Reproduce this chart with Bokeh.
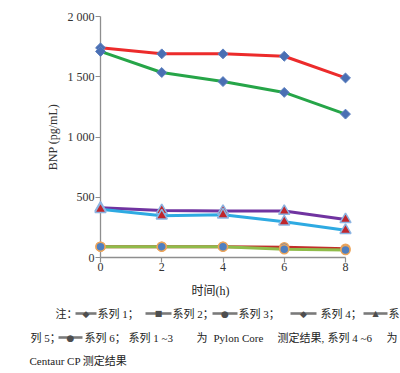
from bokeh.plotting import figure
from bokeh.models import Range1d, LinearAxis, FixedTicker
from bokeh.embed import file_html
from bokeh.resources import INLINE
from bokeh.core.properties import value

# ---------------- data ----------------
hours = [0, 2, 4, 6, 8]
s_red = [1740, 1690, 1690, 1670, 1490]
s_green = [1710, 1535, 1460, 1370, 1190]
s_purple = [412, 390, 385, 385, 316]
s_cyan = [400, 346, 354, 297, 226]
s_darkred = [90, 90, 90, 85, 72]
s_olive = [90, 90, 90, 68, 62]
y_ticks = [0, 500, 1000, 1500, 2000]
y_tick_labels = ["0", "500", "1 000", "1 500", "2 000"]
x_ticks = [0, 2, 4, 6, 8]
x_title = "时间(h)"
y_title = "BNP (pg/mL)"

SERIF_STR = "'Liberation Serif', 'Noto Sans CJK SC', serif"
AXIS_GRAY = "#8e8e8e"

# frame placement (canvas pixels)
FL, FR, FT, FB = 100, 345, 16, 257
W, H = 400, 373
X0, X1, Y0, Y1 = 0, 8, 0, 2000

p = figure(width=W, height=H,
           x_range=Range1d(X0, X1), y_range=Range1d(Y0, Y1),
           x_axis_type=None, y_axis_type=None,
           output_backend="svg", toolbar_location=None,
           min_border_left=FL, min_border_right=W - FR,
           min_border_top=FT, min_border_bottom=H - FB)
p.outline_line_color = None
p.background_fill_color = "white"
p.border_fill_color = "white"

xaxis = LinearAxis(ticker=FixedTicker(ticks=x_ticks))
yaxis = LinearAxis(ticker=FixedTicker(ticks=y_ticks),
                   major_label_overrides={t: l for t, l in zip(y_ticks, y_tick_labels)},
                   axis_label=y_title)
for ax in (xaxis, yaxis):
    ax.axis_line_color = AXIS_GRAY
    ax.axis_line_width = 1.3
    ax.major_tick_line_color = AXIS_GRAY
    ax.major_tick_line_width = 1.2
    ax.major_tick_in = 0
    ax.major_tick_out = 5
    ax.minor_tick_line_color = None
    ax.major_label_standoff = 1
    ax.major_label_text_font = SERIF_STR
    ax.major_label_text_font_size = "12px"
    ax.major_label_text_color = "#333333"
    ax.axis_label_text_font = SERIF_STR
    ax.axis_label_text_font_size = "12px"
    ax.axis_label_text_font_style = "normal"
    ax.axis_label_text_color = "#333333"
yaxis.axis_label_standoff = 5
xaxis.major_label_standoff = 0
p.add_layout(xaxis, "below")
p.add_layout(yaxis, "left")

LW = 3
renderers = []
renderers.append(p.line(hours, s_red, line_color="#ec2b2b", line_width=LW))
renderers.append(p.line(hours, s_green, line_color="#26a548", line_width=LW))
renderers.append(p.line(hours, s_purple, line_color="#7033a0", line_width=LW))
renderers.append(p.line(hours, s_cyan, line_color="#2eaae2", line_width=LW))
renderers.append(p.line(hours, s_darkred, line_color="#c0302a", line_width=LW))
renderers.append(p.line(hours, s_olive, line_color="#8fbc4a", line_width=LW))

for s in (s_red, s_green):
    renderers.append(p.scatter(hours, s, marker="square", size=7, angle=0.785,
                               fill_color="#4a6fb3", line_color="#5b7fc0", line_width=1))
for s in (s_purple, s_cyan):
    renderers.append(p.scatter(hours, s, marker="triangle", size=11,
                               fill_color="#c0262c", line_color="#8cb4e2", line_width=1.5))
for s in (s_darkred, s_olive):
    renderers.append(p.scatter(hours, s, marker="circle", size=9,
                               fill_color="#4f7fc0", line_color="#eda55a", line_width=1.5))

# ---------------- caption (x title + note), drawn outside the frame ----------------
def dx(px):
    return X0 + (px - FL) * (X1 - X0) / (FR - FL)

def dy(py):
    return Y0 + (FB - py) * (Y1 - Y0) / (FB - FT)

def txt(s, x, y, align="left", size="11px", font=SERIF_STR, color="#222222"):
    renderers.append(p.text(x=[dx(x)], y=[dy(y)], text=[s], text_font=value(font),
                            text_font_size=size, text_align=align,
                            text_baseline="middle", text_color=color))

ICON_GRAY = "#7a7a7a"
MARK_GRAY = "#4e4e4e"
MARK_CHAR = {"diamond": ("◆", "9px"), "square": ("■", "8px"),
             "circle": ("●", "9px"), "triangle": ("▲", "8px")}

def icon(x0, x1, y, marker):
    renderers.append(p.segment(x0=[dx(x0)], y0=[dy(y)], x1=[dx(x1)], y1=[dy(y)],
                               line_color=ICON_GRAY, line_width=2.6))
    ch, sz = MARK_CHAR[marker]
    txt(ch, (x0 + x1) / 2, y, align="center", size=sz, font="DejaVu Sans", color=MARK_GRAY)

txt(x_title, 210, 290, align="center", size="12px")

y1, y2, y3 = 313, 337, 360
txt("注：", 55, y1)
icon(75, 96, y1, "diamond")
txt("系列 1；", 97, y1)
icon(145, 171, y1, "square")
txt("系列 2；", 172, y1)
icon(212, 237, y1, "circle")
txt("系列 3；", 238, y1)
icon(290, 316, y1, "diamond")
txt("系列 4；", 320, y1)
icon(363, 387, y1, "triangle")
txt("系", 388, y1)

txt("列 5；", 30, y2)
icon(58, 82, y2, "circle")
txt("系列 6；", 84, y2)
txt("系列 1 ~3", 128, y2)
txt("为", 196, y2)
txt("Pylon Core", 213, y2)
txt("测定结果,", 277, y2)
txt("系列 4 ~6", 327, y2)
txt("为", 386, y2)

txt("Centaur CP 测定结果", 29, y3)

for r in renderers:
    r.level = "overlay"

open("out.html", "w").write(file_html(p, INLINE))
